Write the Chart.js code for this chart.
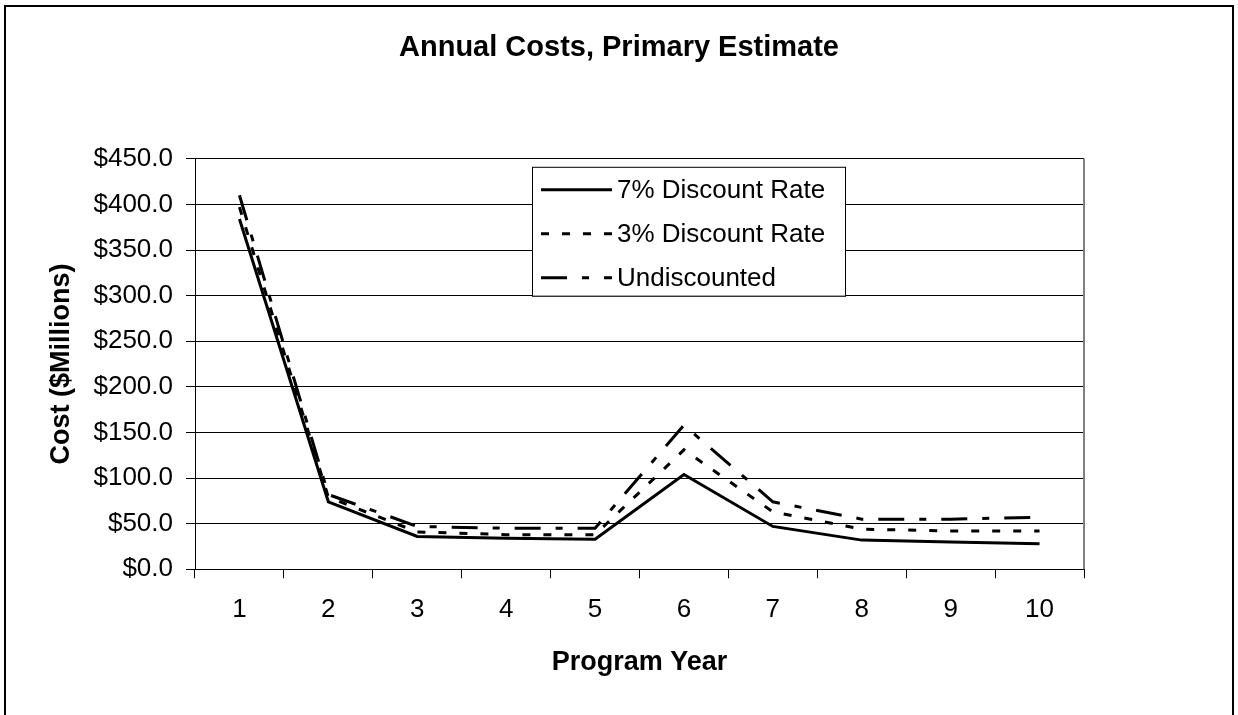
<!DOCTYPE html>
<html>

<head>
  <title>Annual Costs, Primary Estimate</title>
  <script type="text/javascript" src="https://cdn.jsdelivr.net/npm/chart.js"></script>
  <style>
    html, body { margin: 0; padding: 0; background: #fff; overflow: hidden; }
    #chart-container { position: relative; width: 1238px; height: 715px; }
  </style>
</head>

<body>

  <div id="chart-container">
    <canvas id="cost-chart" width="1238" height="715"></canvas>
  </div>

  <script type="text/javascript">
    // Values ($ millions)
    const years = ['1', '2', '3', '4', '5', '6', '7', '8', '9', '10'];
    const rate7 = [384, 74, 36, 34, 33, 104, 47, 32, 30, 28];
    const rate3 = [397, 79, 41, 38, 38, 131, 63, 44, 42, 42];
    const undiscounted = [410, 82, 47, 45, 45, 158, 74, 55, 55, 57];
    const seriesNames = ['7% Discount Rate', '3% Discount Rate', 'Undiscounted'];

    const FONT = 'Arial, "Liberation Sans", sans-serif';

    // outer frame + gray right edge of the plot area
    const framePlugin = {
        id: 'frame',
        beforeDraw(chart) {
            const ctx = chart.ctx;
            ctx.save();
            ctx.fillStyle = '#fff';
            ctx.fillRect(0, 0, chart.width, chart.height);
            ctx.strokeStyle = '#000';
            ctx.lineWidth = 2;
            ctx.strokeRect(5, 6, 1228, 730);
            ctx.restore();
        },
        afterDatasetsDraw(chart) {
            const a = chart.chartArea;
            const ctx = chart.ctx;
            ctx.save();
            ctx.strokeStyle = '#808080';
            ctx.lineWidth = 2;
            ctx.beginPath();
            ctx.moveTo(a.right, a.top);
            ctx.lineTo(a.right, a.bottom);
            ctx.stroke();
            ctx.restore();
        }
    };

    // legend box drawn inside the plot area, like the original
    const boxLegendPlugin = {
        id: 'boxLegend',
        afterDraw(chart) {
            const a = chart.chartArea;
            const ctx = chart.ctx;
            const left = a.left + 337, top = a.top + 8;
            const w = 313, h = 129;
            ctx.save();
            ctx.fillStyle = '#fff';
            ctx.fillRect(left, top, w, h);
            ctx.strokeStyle = '#000';
            ctx.lineWidth = 1;
            ctx.strokeRect(left + 0.5, top + 0.5, w, h);
            ctx.font = '26px ' + FONT;
            ctx.textBaseline = 'middle';
            ctx.fillStyle = '#000';
            chart.data.datasets.forEach((ds, i) => {
                const y = top + 23 + i * 44;
                ctx.beginPath();
                ctx.setLineDash(ds.borderDash || []);
                ctx.lineWidth = ds.borderWidth;
                ctx.lineCap = 'butt';
                ctx.moveTo(left + 9, y);
                ctx.lineTo(left + 80, y);
                ctx.stroke();
                ctx.setLineDash([]);
                ctx.fillText(ds.label, left + 85, y + 1);
            });
            ctx.restore();
        }
    };

    function DrawChart() {
        const ctx = document.getElementById('cost-chart');
        return new Chart(ctx, {
            type: 'line',
            data: {
                labels: years,
                datasets: [
                    {
                        label: seriesNames[0],
                        data: rate7,
                        borderColor: '#000',
                        borderWidth: 3,
                        borderDash: []
                    },
                    {
                        label: seriesNames[1],
                        data: rate3,
                        borderColor: '#000',
                        borderWidth: 3,
                        borderDash: [8, 13]
                    },
                    {
                        label: seriesNames[2],
                        data: undiscounted,
                        borderColor: '#000',
                        borderWidth: 3,
                        borderDash: [26, 15, 7, 15]
                    }
                ]
            },
            options: {
                responsive: false,
                animation: false,
                layout: {
                    padding: 0
                },
                elements: {
                    point: { radius: 0 },
                    line: { tension: 0, fill: false, borderCapStyle: 'butt' }
                },
                scales: {
                    x: {
                        type: 'category',
                        offset: true,
                        afterFit(scale) { scale.height = 145.7; },
                        grid: {
                            offset: true,
                            drawOnChartArea: false,
                            drawTicks: true,
                            tickLength: 9,
                            color: '#000',
                            lineWidth: 1
                        },
                        border: { color: '#000', width: 1 },
                        ticks: {
                            color: '#000',
                            padding: 16,
                            maxRotation: 0,
                            font: { family: FONT, size: 26 }
                        },
                        title: {
                            display: true,
                            text: 'Program Year',
                            color: '#000',
                            font: { family: FONT, size: 27, weight: 'bold' },
                            padding: { top: 0, bottom: 36 }
                        }
                    },
                    y: {
                        min: 0,
                        max: 450,
                        afterFit(scale) { scale.width = 195; },
                        grid: {
                            color: '#000',
                            lineWidth: 1,
                            tickLength: 9
                        },
                        border: { color: '#000', width: 1 },
                        ticks: {
                            stepSize: 50,
                            color: '#000',
                            padding: 13,
                            font: { family: FONT, size: 26 },
                            callback: v => '$' + v.toFixed(1)
                        },
                        title: {
                            display: true,
                            text: 'Cost ($Millions)',
                            color: '#000',
                            font: { family: FONT, size: 27, weight: 'bold' },
                            padding: { top: 45, bottom: 0 }
                        }
                    },
                    // empty right-hand box, keeps the plot clear of the right edge
                    yRight: {
                        position: 'right',
                        min: 0,
                        max: 450,
                        afterFit(scale) { scale.width = 154; },
                        grid: { display: false },
                        border: { display: false },
                        ticks: { display: false }
                    }
                },
                plugins: {
                    legend: { display: false },
                    tooltip: { enabled: false },
                    title: {
                        display: true,
                        text: 'Annual Costs, Primary Estimate',
                        color: '#000',
                        font: { family: FONT, size: 29, weight: 'bold' },
                        padding: { top: 31, bottom: 93 }
                    }
                }
            },
            plugins: [framePlugin, boxLegendPlugin]
        });
    }

    window.onload = function() {
        DrawChart();
    };
  </script>

</body>

</html>
